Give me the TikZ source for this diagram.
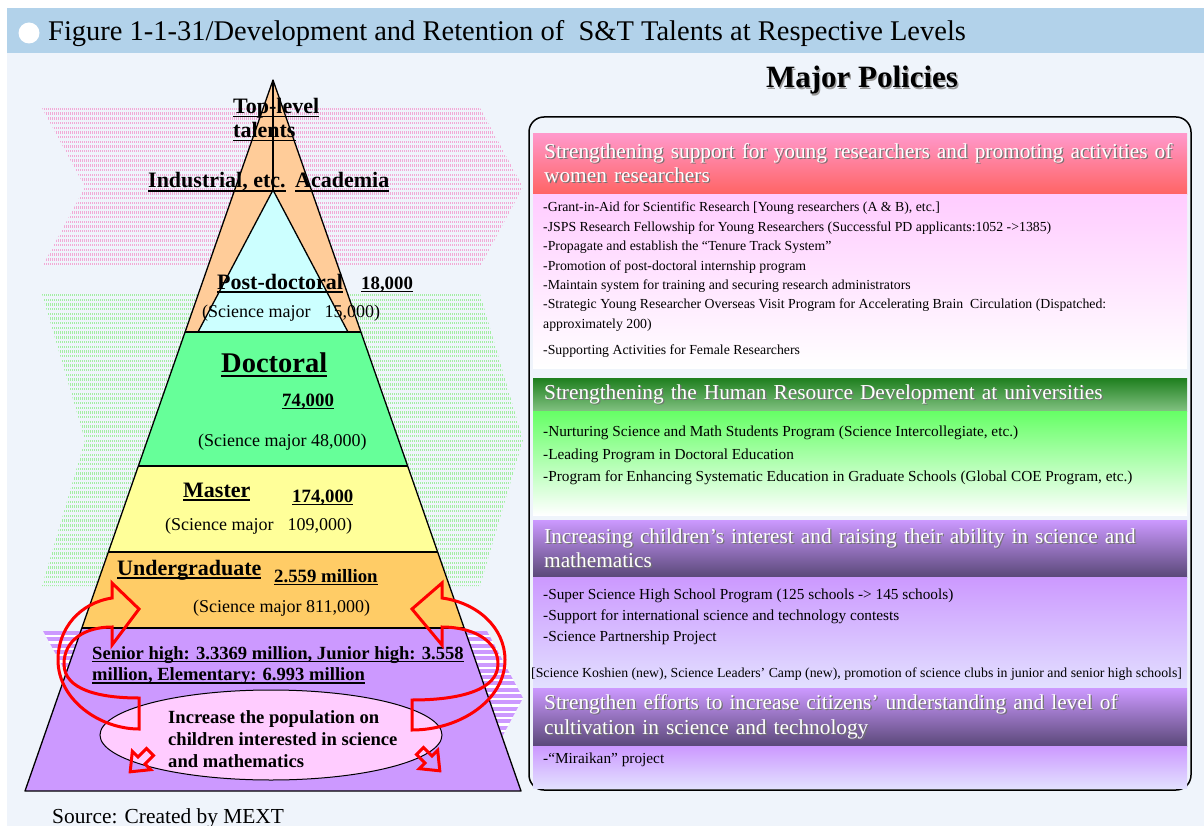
\documentclass[tikz,border=0pt]{standalone}
\usepackage{fontspec}
\setmainfont{Liberation Serif}
\usepackage{xcolor}
\usetikzlibrary{shapes.geometric, positioning, calc}

\definecolor{pagebg}{HTML}{EFF4FB}
\definecolor{titlebar}{HTML}{B2D2EA}
\definecolor{topband}{HTML}{FFCC99}
\definecolor{postdoc}{HTML}{CCFFFF}
\definecolor{doctoral}{HTML}{66FF99}
\definecolor{master}{HTML}{FFFF99}
\definecolor{undergrad}{HTML}{FFCC66}
\definecolor{school}{HTML}{CC99FF}
\definecolor{goalpink}{HTML}{FFCCFF}
\definecolor{pinkrow}{HTML}{F2AAD6}
\definecolor{greenrow}{HTML}{A3EFA3}
\definecolor{headpink}{HTML}{FF99CC}
\definecolor{headred}{HTML}{FF6464}
\definecolor{bodypink}{HTML}{FFCCFF}
\definecolor{headgreen}{HTML}{1F7F1F}
\definecolor{headsage}{HTML}{82C282}
\definecolor{bodygreen}{HTML}{66FF66}
\definecolor{headlilac}{HTML}{CC99FF}
\definecolor{headplum}{HTML}{5A4878}
\definecolor{bodylav}{HTML}{E2E0FF}

% text with a soft drop shadow
\newcommand{\dropshade}[2][black!55]{\leavevmode\rlap{\kern1.3pt\raisebox{-1.3pt}{\textcolor{#1}{#2}}}#2}
% heavier underline for the level labels
\newcommand{\heavyul}[1]{\sbox0{#1}\leavevmode\rlap{\rule[-0.17em]{\wd0}{0.07em}}\usebox0}

\tikzset{
  levelname/.style={anchor=base west, inner sep=0pt, font=\fontsize{22}{24}\selectfont\bfseries},
  levelcount/.style={anchor=base west, inner sep=0pt, font=\fontsize{18.8}{21}\selectfont\bfseries},
  majorline/.style={anchor=base west, inner sep=0pt, font=\fontsize{18}{21}\selectfont},
  blocktext/.style={anchor=north west, inner sep=0pt, align=left, font=\fontsize{18.6}{21.5}\selectfont\bfseries},
  pyramidline/.style={draw=black, line width=1.3, line join=round},
  goalring/.style={ellipse, draw=black, line width=1, fill=goalpink, minimum width=342, minimum height=90},
  loopline/.style={draw=red, line width=3, line join=miter},
  pinkrows/.style={pinkrow, line width=2.4, dash pattern=on 1.3pt off 0.7pt},
  greenrows/.style={greenrow, line width=2.4, dash pattern=on 1.3pt off 0.7pt},
  purplerows/.style={school, line width=4},
  panelbox/.style={draw=black, line width=1.5, rounded corners=15, fill=pagebg, minimum width=662, minimum height=673},
  policyhead/.style={anchor=north west, inner xsep=11, inner ysep=0, minimum width=654, text width=632,
    align=left, text=white, font=\fontsize{21.3}{24.5}\selectfont},
  policybody/.style={anchor=north west, inner sep=0, minimum width=654},
  policyitems/.style={inner sep=0pt, align=left, font=\fontsize{13.8}{19.4}\selectfont},
  dropicon/.pic={\draw[loopline] (0,-5) -- (12,-5) -- (12,-13) -- (28,0) -- (12,13) -- (12,5) -- (0,5) -- cycle;}
}

\begin{document}
\begin{tikzpicture}[x=1pt, y=-1pt]
\useasboundingbox (0,0) rectangle (1204,826);
\fill[white] (0,0) rectangle (1204,826);
\fill[pagebg] (7,53) rectangle (1204,826);
\fill[titlebar] (7,8) rectangle (1204,53);
\fill[white] (29,33) circle (10.5);
\node[anchor=base west, inner sep=0pt, font=\fontsize{28.5}{32}\selectfont] (title) at (48,41)
  {Figure 1-1-31/Development and Retention of\ \ S\&T Talents at Respective Levels};

% striped chevrons behind the pyramid
\begin{scope}
  \clip (42,108) -- (480,108) -- (523,187) -- (480,267) -- (42,267) -- (85,187) -- cycle;
  \foreach \k in {0,...,34} \draw[pinkrows] (40,{109+\k*4.7}) -- (525,{109+\k*4.7});
\end{scope}
\begin{scope}
  \clip (42,294) -- (480,294) -- (523,440) -- (480,586) -- (42,586) -- (85,440) -- cycle;
  \foreach \k in {0,...,62} \draw[greenrows] (40,{295+\k*4.7}) -- (525,{295+\k*4.7});
\end{scope}
\begin{scope}
  \clip (43,631) -- (487,631) -- (523,698) -- (487,765) -- (43,765) -- (80,698) -- cycle;
  \fill[white] (40,630) rectangle (525,766);
  \foreach \k in {0,...,21} \draw[purplerows] (40,{633+\k*6.3}) -- (525,{633+\k*6.3});
\end{scope}

% pyramid levels
\coordinate (apex) at (273,80);
\coordinate (baseL) at (25,791);
\coordinate (baseR) at (521,791);
\coordinate (pdtop) at (273,190);
\foreach \lvl/\t in {pd/0.3544, dr/0.5429, ms/0.6639, ug/0.7707} {
  \coordinate (\lvl-l) at ($(apex)!\t!(baseL)$);
  \coordinate (\lvl-r) at ($(apex)!\t!(baseR)$);
}
\fill[topband] (apex) -- (pd-l) -- (pd-r) -- cycle;
\fill[postdoc] (pdtop) -- (198,332) -- (348,332) -- cycle;
\fill[doctoral] (pd-l) -- (dr-l) -- (dr-r) -- (pd-r) -- cycle;
\fill[master] (dr-l) -- (ms-l) -- (ms-r) -- (dr-r) -- cycle;
\fill[undergrad] (ms-l) -- (ug-l) -- (ug-r) -- (ms-r) -- cycle;
\fill[school] (ug-l) -- (baseL) -- (baseR) -- (ug-r) -- cycle;
\draw[pyramidline] (apex) -- (baseL) -- (baseR) -- cycle;
\draw[pyramidline] (198,332) -- (pdtop) -- (348,332);
\draw[pyramidline] (apex) -- (pdtop);
\foreach \lvl in {pd,dr,ms,ug} \draw[pyramidline] (\lvl-l) -- (\lvl-r);

\node[goalring] (goal) at (271,735) {};

\node[blocktext, font=\fontsize{22}{24}\selectfont\bfseries] (toplevel) at (233,98) {\heavyul{Top-level}\\\heavyul{talents}};
\node[levelname] (industry) at (148,188) {\heavyul{Industrial, etc.}};
\node[levelname] (academia) at (295,188) {\heavyul{Academia}};
\node[levelname] (postdocname) at (217,289) {\heavyul{Post-doctoral}};
\node[levelcount] (postdoccount) at (361,289) {\heavyul{18,000}};
\node[majorline] (postdocsci) at (202,317) {(Science major\hspace{14pt}15,000)};
\node[levelname, font=\fontsize{28.5}{30}\selectfont\bfseries] (doctoralname) at (221,372) {\heavyul{Doctoral}};
\node[levelcount] (doctoralcount) at (282,406) {\heavyul{74,000}};
\node[majorline] (doctoralsci) at (198,446) {(Science major 48,000)};
\node[levelname] (mastername) at (183,497) {\heavyul{Master}};
\node[levelcount] (mastercount) at (292,502) {\heavyul{174,000}};
\node[majorline] (mastersci) at (165,530) {(Science major\hspace{14pt}109,000)};
\node[levelname] (ugname) at (117,575) {\heavyul{Undergraduate}};
\node[levelcount] (ugcount) at (274,582) {\heavyul{2.559 million}};
\node[majorline] (ugsci) at (193,612) {(Science major 811,000)};
\node[blocktext] (schools) at (92,646) {\heavyul{Senior high: 3.3369 million, Junior high: 3.558}\\\heavyul{million, Elementary: 6.993 million}};
\node[blocktext, font=\fontsize{18.6}{22}\selectfont\bfseries] (goaltext) at (168,710) {Increase the population on\\children interested in science\\and mathematics};

% circulation arrows
\draw[loopline] (112,598) .. controls (80,603) and (58,628) .. (58,660)
  .. controls (58,700) and (100,729) .. (139,729) -- (139,698)
  .. controls (100,698) and (64,690) .. (64,664)
  .. controls (64,640) and (85,627) .. (112,627)
  -- (112,645) -- (139,609) -- (112,583) -- cycle;
\draw[loopline] (442,598) .. controls (478,603) and (505,628) .. (505,660)
  .. controls (505,700) and (460,730) .. (412,730) -- (412,700)
  .. controls (460,700) and (498,690) .. (498,664)
  .. controls (498,640) and (472,627) .. (442,627)
  -- (442,645) -- (412,609) -- (442,583) -- cycle;
\pic[rotate=225] at (150,752) {dropicon};
\pic[rotate=-45] at (420,751) {dropicon};

\node[anchor=base west, inner sep=0pt, font=\fontsize{21.4}{24}\selectfont] (source) at (52,823) {Source: Created by MEXT};

% policy panel
\node[anchor=base, inner sep=0pt, font=\fontsize{31}{34}\selectfont\bfseries] (policytitle) at (862,88) {\dropshade[black!40]{Major Policies}};
\node[panelbox] (policies) at (860,453.5) {};

\node[policyhead, top color=headpink, bottom color=headred, minimum height=61] (youngHead) at (533,133)
  {\dropshade{Strengthening support for young researchers and promoting activities of}\\\dropshade{women researchers}};
\node[policybody, top color=bodypink, bottom color=white, minimum height=174] (youngBody) at (533,194) {};
\node[policyitems, below right=8pt and 10pt of youngBody.north west, anchor=north west] (youngItems)
  {-Grant-in-Aid for Scientific Research [Young researchers (A \& B), etc.]\\
   -JSPS Research Fellowship for Young Researchers (Successful PD applicants:1052 ->1385)\\
   -Propagate and establish the “Tenure Track System”\\
   -Promotion of post-doctoral internship program\\
   -Maintain system for training and securing research administrators\\
   -Strategic Young Researcher Overseas Visit Program for Accelerating Brain\ \ Circulation (Dispatched:\\
   approximately 200)\\[7pt]
   -Supporting Activities for Female Researchers};

\node[policyhead, top color=headgreen, bottom color=headsage, minimum height=33] (uniHead) at (533,378)
  {\dropshade{Strengthening the Human Resource Development at universities}};
\node[policybody, top color=bodygreen, bottom color=white, minimum height=104] (uniBody) at (533,411) {};
\node[policyitems, font=\fontsize{15.3}{22.5}\selectfont, below right=15pt and 10pt of uniBody.north west, anchor=north west] (uniItems)
  {-Nurturing Science and Math Students Program (Science Intercollegiate, etc.)\\
   -Leading Program in Doctoral Education\\
   -Program for Enhancing Systematic Education in Graduate Schools (Global COE Program, etc.)};

\node[policyhead, top color=headlilac, bottom color=headplum, minimum height=57] (childHead) at (533,520)
  {\dropshade{Increasing children’s interest and raising their ability in science and}\\\dropshade{mathematics}};
\node[policybody, top color=headlilac, bottom color=bodylav, minimum height=111] (childBody) at (533,577) {};
\node[policyitems, font=\fontsize{15.3}{21}\selectfont, below right=12pt and 10pt of childBody.north west, anchor=north west] (childItems)
  {-Super Science High School Program (125 schools -> 145 schools)\\
   -Support for international science and technology contests\\
   -Science Partnership Project};
\node[policyitems, anchor=base west] (childNote) at (531,677)
  {[Science Koshien (new), Science Leaders' Camp (new), promotion of science clubs in junior and senior high schools]};

\node[policyhead, top color=headlilac, bottom color=headplum, minimum height=58] (citizenHead) at (533,688)
  {\dropshade{Strengthen efforts to increase citizens’ understanding and level of}\\\dropshade{cultivation in science and technology}};
\node[policybody, top color=headlilac, bottom color=bodylav, minimum height=42] (citizenBody) at (533,746) {};
\node[policyitems, font=\fontsize{15.3}{21}\selectfont, below right=7pt and 10pt of citizenBody.north west, anchor=north west] (citizenItems)
  {-“Miraikan” project};
\end{tikzpicture}
\end{document}
